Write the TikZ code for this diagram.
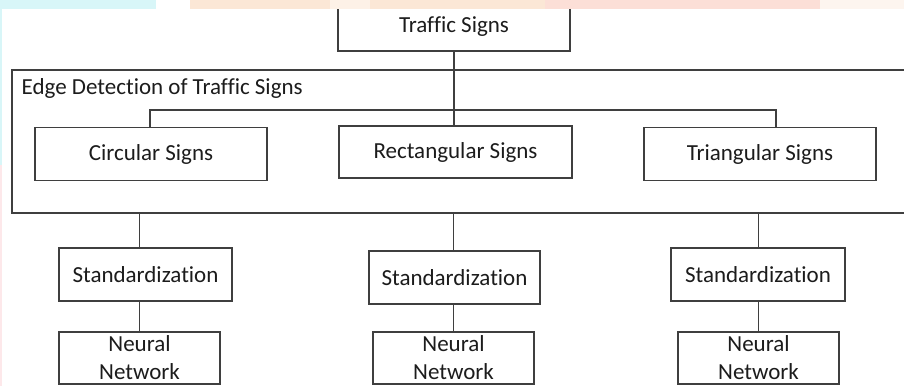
\documentclass[tikz,border=0pt]{standalone}
\usepackage{fontspec}
\setmainfont{Carlito}[RawFeature={-liga;-clig;-dlig}]
\usetikzlibrary{calc}

\definecolor{linegray}{HTML}{3F3F3F}
\definecolor{textdark}{HTML}{1C1C1C}
\definecolor{wmcyan}{HTML}{D8F6F8}
\definecolor{wmpeach}{HTML}{FBE7D6}
\definecolor{wmsalmon}{HTML}{FCDFD7}
\definecolor{wmpink}{HTML}{FDE8EA}

\begin{document}
\begin{tikzpicture}[x=1pt, y=-1pt, line width=1.3pt, draw=linegray,
  every node/.style={draw=linegray, line width=1.3pt, rectangle, inner sep=0pt,
    font=\fontsize{23}{28}\selectfont, text=textdark, align=center}]
\useasboundingbox (0,0) rectangle (904,386);
\fill[white] (0,0) rectangle (904,386);

\node (ts) at (454,27) [minimum width=232, minimum height=48] {Traffic Signs};

% the big frame
\node (edge) at (466,141.5) [minimum width=908, minimum height=143] {};
\node (edgelbl) at (21,88) [draw=none, anchor=west] {Edge Detection of Traffic Signs};

\node (circ) at (151,154) [minimum width=232, minimum height=53] {Circular Signs};
\node (rect) at (455.5,152) [minimum width=233, minimum height=52] {Rectangular Signs};
\node (tri) at (760,154) [minimum width=232, minimum height=53] {Triangular Signs};

\coordinate (bl) at (150,110);
\coordinate (br) at (776,110);
\draw (ts.south) -- (ts.south |- rect.north);
\draw (bl |- circ.north) -- (bl) -- (br) -- (br |- tri.north);

\foreach \i/\sx/\sy/\sw/\nx in {1/145.5/274.5/173/139.5, 2/454.5/277.5/171/453.5, 3/758/274.5/174/758.5} {
    \node (S\i) at (\sx,\sy) [minimum width=\sw, minimum height=53] {Standardization};
    \node (N\i) at (\nx,358) [minimum width=161, minimum height=52] {Neural\\Network};
    \coordinate (L\i) at (edge.south -| N\i.north);
    \draw (L\i) -- (L\i |- S\i.north);
    \draw (S\i.south -| L\i) -- (N\i.north);
}

% faded backdrop at the edges
\fill[wmcyan] (0,0) rectangle (156,9);
\fill[wmpeach] (190,0) rectangle (330,9);
\fill[wmpeach!60] (330,0) rectangle (370,9);
\fill[wmpeach] (370,0) rectangle (545,9);
\fill[wmsalmon] (545,0) rectangle (820,9);
\fill[wmpeach!40] (820,0) rectangle (904,9);
\fill[wmcyan] (0,0) rectangle (2,165);
\fill[wmpink] (0,165) rectangle (2,386);
\end{tikzpicture}
\end{document}
